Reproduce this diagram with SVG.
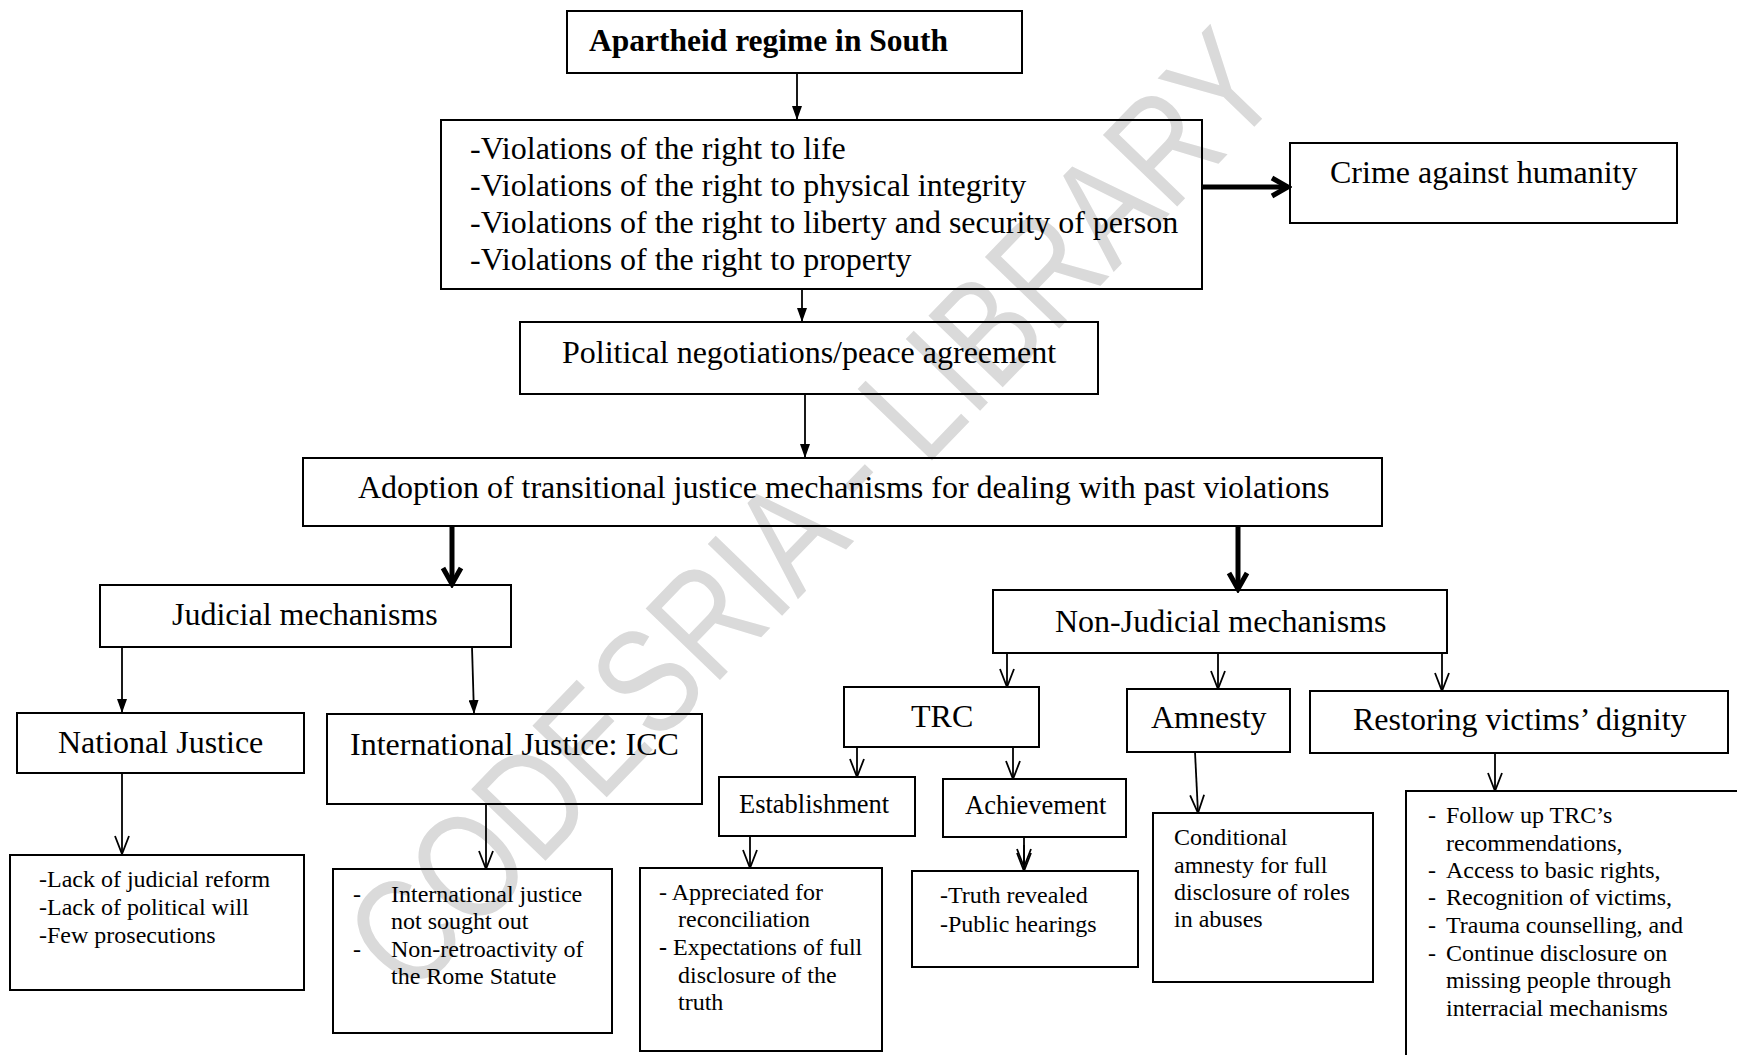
<svg xmlns="http://www.w3.org/2000/svg" width="1737" height="1055" viewBox="0 0 1737 1055">
<style>
.box{fill:none;stroke:#000;stroke-width:2}
.t{font-family:"Liberation Serif","Times New Roman",serif;fill:#000}
.h{font-size:32px}
.s{font-size:24px}
.c{stroke:#000;stroke-width:1.8;fill:none}
.k{stroke:#000;stroke-width:5;fill:none}
.wm{font-family:"Liberation Sans",Arial,sans-serif;font-size:150px;fill:#dadada}
</style>
<defs>
<marker id="fa" markerUnits="userSpaceOnUse" viewBox="0 0 14 10" refX="14" refY="5" markerWidth="14" markerHeight="10" orient="auto">
<path d="M0,0 L14,5 L0,10 z" fill="#000"/>
</marker>
<marker id="oa" markerUnits="userSpaceOnUse" viewBox="0 0 20 16" refX="19" refY="8" markerWidth="20" markerHeight="16" orient="auto">
<path d="M1,1 L19,8 L1,15" fill="none" stroke="#000" stroke-width="1.8"/>
</marker>
<marker id="ka" markerUnits="userSpaceOnUse" viewBox="0 0 24 24" refX="20" refY="12" markerWidth="24" markerHeight="24" orient="auto">
<path d="M4,3 L20,12 L4,21" fill="none" stroke="#000" stroke-width="5"/>
</marker>
</defs>
<rect width="1737" height="1055" fill="#fff"/>
<text class="wm" transform="translate(810,509) rotate(-46)" x="0" y="54" text-anchor="middle" textLength="1260" lengthAdjust="spacingAndGlyphs">CODESRIA - LIBRARY</text>

<g id="connectors">
<line class="c" x1="797" y1="73" x2="797" y2="120" marker-end="url(#fa)"/>
<line class="k" x1="1202" y1="187" x2="1288" y2="187" marker-end="url(#ka)"/>
<line class="c" x1="802" y1="289" x2="802" y2="322" marker-end="url(#fa)"/>
<line class="c" x1="805" y1="394" x2="805" y2="458" marker-end="url(#fa)"/>
<line class="k" x1="452" y1="526" x2="452" y2="584" marker-end="url(#ka)"/>
<line class="k" x1="1238" y1="526" x2="1238" y2="589" marker-end="url(#ka)"/>
<line class="c" x1="122" y1="647" x2="122" y2="713" marker-end="url(#fa)"/>
<line class="c" x1="472" y1="647" x2="474" y2="714" marker-end="url(#fa)"/>
<line class="c" x1="122" y1="773" x2="122" y2="854" marker-end="url(#oa)"/>
<line class="c" x1="486" y1="804" x2="486" y2="869" marker-end="url(#oa)"/>
<line class="c" x1="1007" y1="653" x2="1007" y2="687" marker-end="url(#oa)"/>
<line class="c" x1="1218" y1="653" x2="1218" y2="689" marker-end="url(#oa)"/>
<line class="c" x1="1442" y1="653" x2="1442" y2="691" marker-end="url(#oa)"/>
<line class="c" x1="857" y1="747" x2="857" y2="777" marker-end="url(#oa)"/>
<line class="c" x1="1013" y1="747" x2="1013" y2="779" marker-end="url(#oa)"/>
<line class="c" x1="750" y1="836" x2="750" y2="868" marker-end="url(#oa)"/>
<line class="c" x1="1024" y1="837" x2="1024" y2="871" marker-end="url(#oa)"/>
<line class="c" x1="1024" y1="845" x2="1024" y2="867" marker-end="url(#oa)"/>
<line class="c" x1="1195" y1="752" x2="1198" y2="813" marker-end="url(#oa)"/>
<line class="c" x1="1495" y1="753" x2="1495" y2="791" marker-end="url(#oa)"/>
</g>

<g id="apartheid">
<rect class="box" x="567" y="11" width="455" height="62"/>
<text class="t" x="589" y="51" font-size="31.5" font-weight="bold">Apartheid regime in South</text>
</g>
<g id="violations">
<rect class="box" x="441" y="120" width="761" height="169"/>
<text class="t h"><tspan x="470" y="159">-Violations of the right to life</tspan><tspan x="470" y="196">-Violations of the right to physical integrity</tspan><tspan x="470" y="233">-Violations of the right to liberty and security of person</tspan><tspan x="470" y="270">-Violations of the right to property</tspan></text>
</g>
<g id="crime">
<rect class="box" x="1290" y="143" width="387" height="80"/>
<text class="t h" x="1330" y="183">Crime against humanity</text>
</g>
<g id="political">
<rect class="box" x="520" y="322" width="578" height="72"/>
<text class="t h" x="562" y="363">Political negotiations/peace agreement</text>
</g>
<g id="adoption">
<rect class="box" x="303" y="458" width="1079" height="68"/>
<text class="t h" x="358" y="498">Adoption of transitional justice mechanisms for dealing with past violations</text>
</g>
<g id="judicial">
<rect class="box" x="100" y="585" width="411" height="62"/>
<text class="t h" x="172" y="625">Judicial mechanisms</text>
</g>
<g id="nonjudicial">
<rect class="box" x="993" y="590" width="454" height="63"/>
<text class="t h" x="1055" y="632">Non-Judicial mechanisms</text>
</g>
<g id="national">
<rect class="box" x="17" y="713" width="287" height="60"/>
<text class="t h" x="58" y="753">National Justice</text>
</g>
<g id="international">
<rect class="box" x="327" y="714" width="375" height="90"/>
<text class="t h" x="350" y="755">International Justice: ICC</text>
</g>
<g id="trc">
<rect class="box" x="844" y="687" width="195" height="60"/>
<text class="t h" x="911" y="727">TRC</text>
</g>
<g id="amnesty">
<rect class="box" x="1127" y="689" width="163" height="63"/>
<text class="t h" x="1151" y="728">Amnesty</text>
</g>
<g id="restoring">
<rect class="box" x="1310" y="691" width="418" height="62"/>
<text class="t h" x="1353" y="730">Restoring victims’ dignity</text>
</g>
<g id="establishment">
<rect class="box" x="719" y="777" width="196" height="59"/>
<text class="t" x="739" y="813" font-size="26.5">Establishment</text>
</g>
<g id="achievement">
<rect class="box" x="943" y="779" width="183" height="58"/>
<text class="t" x="965" y="814" font-size="26.5">Achievement</text>
</g>
<g id="national-list">
<rect class="box" x="10" y="855" width="294" height="135"/>
<text class="t s"><tspan x="39" y="887">-Lack of judicial reform</tspan><tspan x="39" y="915">-Lack of political will</tspan><tspan x="39" y="943">-Few prosecutions</tspan></text>
</g>
<g id="international-list">
<rect class="box" x="333" y="869" width="279" height="164"/>
<text class="t s"><tspan x="353" y="902">-</tspan><tspan x="391" y="902">International justice</tspan><tspan x="391" y="929">not sought out</tspan><tspan x="353" y="957">-</tspan><tspan x="391" y="957">Non-retroactivity of</tspan><tspan x="391" y="984">the Rome Statute</tspan></text>
</g>
<g id="establishment-list">
<rect class="box" x="640" y="868" width="242" height="183"/>
<text class="t s"><tspan x="659" y="900">- Appreciated for</tspan><tspan x="678" y="927">reconciliation</tspan><tspan x="659" y="955" font-weight="bold">-</tspan><tspan> Expectations of full</tspan><tspan x="678" y="983">disclosure of the</tspan><tspan x="678" y="1010">truth</tspan></text>
</g>
<g id="achievement-list">
<rect class="box" x="912" y="871" width="226" height="96"/>
<text class="t s"><tspan x="940" y="903">-Truth revealed</tspan><tspan x="940" y="932">-Public hearings</tspan></text>
</g>
<g id="amnesty-list">
<rect class="box" x="1153" y="813" width="220" height="169"/>
<text class="t s"><tspan x="1174" y="845">Conditional</tspan><tspan x="1174" y="873">amnesty for full</tspan><tspan x="1174" y="900">disclosure of roles</tspan><tspan x="1174" y="927">in abuses</tspan></text>
</g>
<g id="restoring-list">
<rect class="box" x="1406" y="791" width="360" height="300"/>
<text class="t s"><tspan x="1428" y="823">-</tspan><tspan x="1446" y="823">Follow up TRC’s</tspan><tspan x="1446" y="851">recommendations,</tspan><tspan x="1428" y="878">-</tspan><tspan x="1446" y="878">Access to basic rights,</tspan><tspan x="1428" y="905">-</tspan><tspan x="1446" y="905">Recognition of victims,</tspan><tspan x="1428" y="933">-</tspan><tspan x="1446" y="933">Trauma counselling, and</tspan><tspan x="1428" y="961">-</tspan><tspan x="1446" y="961">Continue disclosure on</tspan><tspan x="1446" y="988">missing people through</tspan><tspan x="1446" y="1016">interracial mechanisms</tspan></text>
</g>
</svg>
